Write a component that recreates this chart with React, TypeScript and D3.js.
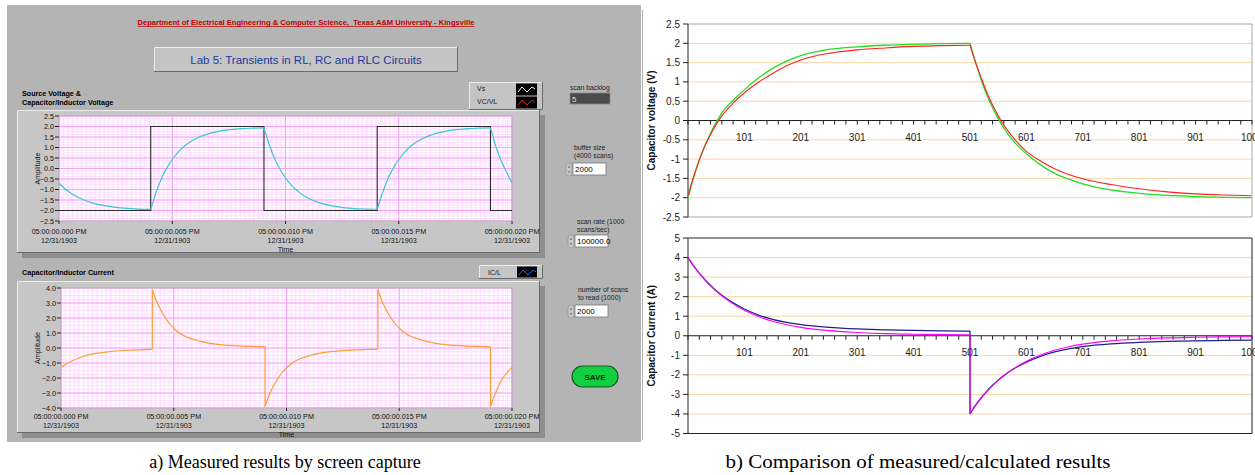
import React from 'react';
import * as d3 from 'd3';

// ---------- a) measured, LabVIEW capture (time in ms) ----------
const scopeTimeMs = [
  0, 0.25, 0.5, 0.75, 1, 1.5, 2, 2.5, 3, 3.5, 4.05,
  4.05, 4.15, 4.3, 4.55, 4.8, 5.05, 5.3, 5.55, 6.05, 6.55, 7.05, 7.55, 8.05, 8.55, 9.05,
  9.05, 9.15, 9.3, 9.55, 9.8, 10.05, 10.3, 10.55, 11.05, 11.55, 12.05, 12.55, 13.05, 13.55, 14.05,
  14.05, 14.15, 14.3, 14.55, 14.8, 15.05, 15.3, 15.55, 16.05, 16.55, 17.05, 17.55, 18.05, 18.55, 19.05,
  19.05, 19.15, 19.3, 19.55, 19.8, 20,
];
const scopeVc = [
  -0.7, -0.95, -1.15, -1.32, -1.45, -1.65, -1.77, -1.85, -1.9, -1.93, -1.95,
  -1.95, -1.6, -1.1, -0.42, 0.1, 0.5, 0.83, 1.08, 1.43, 1.64, 1.77, 1.85, 1.9, 1.92, 1.93,
  1.93, 1.58, 1.08, 0.4, -0.12, -0.52, -0.84, -1.09, -1.44, -1.65, -1.78, -1.86, -1.91, -1.93, -1.94,
  -1.94, -1.6, -1.1, -0.42, 0.1, 0.5, 0.83, 1.08, 1.43, 1.64, 1.77, 1.85, 1.9, 1.92, 1.93,
  1.93, 1.55, 1.0, 0.3, -0.25, -0.7,
];
const scopeIc = [
  -1.3, -1.05, -0.85, -0.68, -0.55, -0.38, -0.27, -0.2, -0.15, -0.12, -0.09,
  3.9, 3.45, 2.9, 2.2, 1.65, 1.25, 0.95, 0.75, 0.5, 0.33, 0.23, 0.17, 0.13, 0.1, 0.08,
  -3.9, -3.45, -2.9, -2.2, -1.65, -1.25, -0.95, -0.75, -0.5, -0.33, -0.23, -0.17, -0.13, -0.1, -0.08,
  3.9, 3.45, 2.9, 2.2, 1.65, 1.25, 0.95, 0.75, 0.5, 0.33, 0.23, 0.17, 0.13, 0.1, 0.08,
  -3.9, -3.45, -2.9, -2.1, -1.6, -1.3,
];
const sourceEdgeMs = [0, 4.05, 9.05, 14.05, 19.05, 20];
const sourceLevel = [-2, 2, -2, 2, -2, -2];
const scopeTimeTicks = [0, 5, 10, 15, 20];
const scopeTimeLabels = ['05:00:00.000 PM', '05:00:00.005 PM', '05:00:00.010 PM', '05:00:00.015 PM', '05:00:00.020 PM'];
const scopeDate = '12/31/1903';
const scopeVoltTicks = [2.5, 2, 1.5, 1, 0.5, 0, -0.5, -1, -1.5, -2, -2.5];
const scopeAmpTicks = [4, 3, 2, 1, 0, -1, -2, -3, -4];

// ---------- b) measured vs calculated (sample number) ----------
const sampleIdx = [
  1, 11, 21, 31, 41, 51, 61, 81, 101, 126, 151, 176, 201, 251, 301, 351, 401, 451, 501,
  501, 511, 521, 531, 541, 551, 561, 581, 601, 626, 651, 676, 701, 751, 801, 851, 901, 951, 1000,
];
const measuredVc = [
  -1.95, -1.45, -1.02, -0.66, -0.36, -0.1, 0.12, 0.45, 0.72, 0.99, 1.22, 1.42, 1.57, 1.74, 1.83, 1.88, 1.92, 1.94, 1.95,
  1.95, 1.5, 1.1, 0.72, 0.4, 0.12, -0.12, -0.5, -0.8, -1.05, -1.25, -1.4, -1.51, -1.66, -1.77, -1.85, -1.9, -1.93, -1.95,
];
const calculatedVc = [
  -2, -1.48, -1.03, -0.65, -0.33, -0.05, 0.2, 0.52, 0.8, 1.1, 1.35, 1.54, 1.68, 1.84, 1.91, 1.95, 1.97, 1.99, 2,
  2, 1.5, 1.05, 0.66, 0.33, 0.05, -0.2, -0.58, -0.86, -1.15, -1.37, -1.52, -1.64, -1.8, -1.89, -1.94, -1.97, -1.99, -2,
];
const measuredIc = [
  4, 3.57, 3.2, 2.87, 2.57, 2.3, 2.07, 1.68, 1.37, 1.06, 0.84, 0.68, 0.57, 0.43, 0.35, 0.3, 0.27, 0.25, 0.24,
  -4, -3.55, -3.17, -2.83, -2.53, -2.27, -2.04, -1.65, -1.35, -1.05, -0.83, -0.67, -0.56, -0.42, -0.34, -0.29, -0.26, -0.24, -0.22,
];
const calculatedIc = [
  4, 3.57, 3.19, 2.85, 2.55, 2.28, 2.04, 1.63, 1.3, 0.98, 0.74, 0.56, 0.43, 0.26, 0.17, 0.11, 0.08, 0.06, 0.05,
  -4, -3.57, -3.19, -2.85, -2.55, -2.28, -2.04, -1.63, -1.3, -0.98, -0.74, -0.56, -0.43, -0.26, -0.17, -0.11, -0.08, -0.06, -0.05,
];
const sampleLabels = [101, 201, 301, 401, 501, 601, 701, 801, 901, 1001];
const vcTicks = [2.5, 2, 1.5, 1, 0.5, 0, -0.5, -1, -1.5, -2, -2.5];
const icTicks = [5, 4, 3, 2, 1, 0, -1, -2, -3, -4, -5];

const sans = "'Liberation Sans', Arial, sans-serif";
const serif = "'Liberation Serif', 'Times New Roman', serif";

// split a trace where the x value repeats (a jump)
function splitAt(xs: number[], ys: number[]) {
  const segs: [number, number][][] = [];
  let cur: [number, number][] = [];
  xs.forEach((x, i) => {
    if (i > 0 && x === xs[i - 1]) { segs.push(cur); cur = []; }
    cur.push([x, ys[i]]);
  });
  segs.push(cur);
  return segs;
}

function Trace({ xs, ys, x, y, color, w = 1 }: any) {
  const segs = splitAt(xs, ys);
  const line = d3.line<[number, number]>().x(d => x(d[0])).y(d => y(d[1])).curve(d3.curveMonotoneX);
  return (
    <g fill="none" stroke={color} strokeWidth={w} strokeLinejoin="round">
      {segs.map((s, i) => <path key={i} d={line(s) ?? ''} />)}
      {segs.slice(1).map((s, i) => {
        const p = segs[i][segs[i].length - 1];
        return <line key={'j' + i} x1={x(p[0])} y1={y(p[1])} x2={x(s[0][0])} y2={y(s[0][1])} />;
      })}
    </g>
  );
}

function Bevel({ x, y, w, h, fill, sunk = false }: any) {
  const hi = sunk ? '#707070' : '#ececec';
  const lo = sunk ? '#efefef' : '#6a6a6a';
  return (
    <g>
      <rect x={x} y={y} width={w} height={h} fill={fill} />
      <path d={`M${x + 0.5},${y + h}V${y + 0.5}H${x + w}`} stroke={hi} fill="none" />
      <path d={`M${x + w - 0.5},${y}V${y + h - 0.5}H${x}`} stroke={lo} fill="none" />
    </g>
  );
}

function ScopeChart({ fy, fh, px0, px1, py0, py1, yDomain, yTicks, yMinor, labelY, draw }: any) {
  const x = d3.scaleLinear().domain([0, 20]).range([px0, px1]);
  const y = d3.scaleLinear().domain(yDomain).range([py1, py0]);
  const minorX = d3.range(0, 20.0001, 0.2);
  const minorY = d3.range(yDomain[0], yDomain[1] + 1e-6, yMinor);
  const fmt = d3.format('.1f');
  return (
    <g>
      <rect x={22} y={fy + 5} width={523} height={fh} fill="#8e8e8e" />
      <Bevel x={17} y={fy} w={523} h={fh} fill="#c6c6c6" />
      <rect x={px0} y={py0} width={px1 - px0} height={py1 - py0} fill="#fffaff" />
      <g stroke="#ffd4ff" strokeWidth={0.7}>
        {minorX.map((t, i) => <line key={'mx' + i} x1={x(t)} x2={x(t)} y1={py0} y2={py1} />)}
        {minorY.map((v, i) => <line key={'my' + i} x1={px0} x2={px1} y1={y(v)} y2={y(v)} />)}
      </g>
      <g stroke="#f7a0f7" strokeWidth={1}>
        {scopeTimeTicks.map(t => <line key={'gx' + t} x1={x(t)} x2={x(t)} y1={py0} y2={py1} />)}
        {yTicks.map((v: number) => <line key={'gy' + v} x1={px0} x2={px1} y1={y(v)} y2={y(v)} />)}
      </g>
      <rect x={px0} y={py0} width={px1 - px0} height={py1 - py0} fill="none" stroke="#9a9a9a" strokeWidth={0.6} />
      {draw(x, y)}
      <g fontFamily={sans} fontSize={7.2} fill="#111">
        {yTicks.map((v: number) => (
          <g key={'yl' + v}>
            <line x1={px0 - 4} x2={px0} y1={y(v)} y2={y(v)} stroke="#222" />
            <text x={px0 - 5} y={y(v) + 2.6} textAnchor="end">{fmt(v)}</text>
          </g>
        ))}
        {scopeTimeTicks.map((t, i) => (
          <g key={'xl' + t}>
            <line x1={x(t)} x2={x(t)} y1={py1} y2={py1 + 3} stroke="#222" />
            <text x={x(t)} y={labelY} textAnchor="middle">{scopeTimeLabels[i]}</text>
            <text x={x(t)} y={labelY + 8.5} textAnchor="middle">{scopeDate}</text>
          </g>
        ))}
        <text x={(px0 + px1) / 2} y={labelY + 17.5} textAnchor="middle">Time</text>
        <text transform={`translate(40,${(py0 + py1) / 2}) rotate(-90)`} textAnchor="middle">Amplitude</text>
      </g>
    </g>
  );
}

function Spin({ x, y, h }: any) {
  return (
    <g>
      <rect x={x} y={y} width={6} height={h} rx={3} fill="#c8c8c8" stroke="#8a8a8a" strokeWidth={0.6} />
      <path d={`M${x + 1.5},${y + h / 2 - 1.5}l1.5,-2.5l1.5,2.5z M${x + 1.5},${y + h / 2 + 1.5}l1.5,2.5l1.5,-2.5z`} fill="#888" />
    </g>
  );
}

function NumBox({ x, y, w, h, value }: any) {
  return (
    <g>
      <rect x={x} y={y} width={w} height={h} fill="#fff" stroke="#777" strokeWidth={0.8} />
      <text x={x + 2} y={y + h - 3} fontFamily={sans} fontSize={8} fill="#000">{value}</text>
    </g>
  );
}

function ExcelChart({ top, bottom, yDomain, yTicks, title, border, draw }: any) {
  const left = 688, right = 1252;
  const x = d3.scaleLinear().domain([1, 1001]).range([left, right]);
  const y = d3.scaleLinear().domain(yDomain).range([bottom, top]);
  const tickIdx = d3.range(1, 1002, 20);
  const y0 = y(0);
  return (
    <g>
      <g stroke="#fad6a6" strokeWidth={1}>
        {yTicks.filter((v: number) => v !== 0 && v !== yDomain[0] && v !== yDomain[1]).map((v: number) => (
          <line key={'g' + v} x1={left} x2={right} y1={y(v)} y2={y(v)} />
        ))}
      </g>
      <path d={`M${left},${top}H${right}V${bottom}H${left}`} fill="none" stroke={border} strokeWidth={1} />
      <line x1={left} x2={left} y1={top} y2={bottom} stroke="#222" />
      <line x1={left} x2={right} y1={y0} y2={y0} stroke="#222" />
      <g stroke="#222">
        {tickIdx.map(n => <line key={'t' + n} x1={x(n)} x2={x(n)} y1={y0} y2={y0 + 4} />)}
        {yTicks.map((v: number) => <line key={'yt' + v} x1={left - 5} x2={left} y1={y(v)} y2={y(v)} />)}
      </g>
      {draw(x, y)}
      <g fontFamily={sans} fontSize={10} fill="#222">
        {yTicks.map((v: number) => (
          <text key={'yl' + v} x={left - 8} y={y(v) + 3.5} textAnchor="end">{v}</text>
        ))}
        {sampleLabels.map(n => (
          <text key={'xl' + n} x={x(n)} y={y0 + 20} textAnchor="middle">{n}</text>
        ))}
      </g>
      <text transform={`translate(655,${(top + bottom) / 2}) rotate(-90)`} textAnchor="middle"
        fontFamily={sans} fontSize={10} fontWeight="bold" fill="#111">{title}</text>
    </g>
  );
}

export default function App() {
  return (
    <svg width={1255} height={475} style={{ position: 'absolute', left: 0, top: 0, background: '#fff' }}>
      {/* left panel */}
      <rect x={7} y={5} width={634} height={437} fill="#b4b4b4" />
      <text x={306} y={25} textAnchor="middle" fontFamily={sans} fontSize={7} fontWeight="bold" fill="#c00000"
        textDecoration="underline" style={{ whiteSpace: 'pre' }} textLength={337} lengthAdjust="spacingAndGlyphs">
        Department of Electrical Engineering &amp; Computer Science,  Texas A&amp;M University - Kingsville
      </text>
      <Bevel x={154} y={47} w={304} h={25} fill="#c4c4c4" />
      <text x={306} y={63.5} textAnchor="middle" fontFamily={sans} fontSize={11.5} fill="#1c3a9c">
        Lab 5: Transients in RL, RC and RLC Circuits
      </text>

      {/* voltage chart */}
      <text x={22} y={96} fontFamily={sans} fontSize={7.2} fontWeight="bold">Source Voltage &amp;</text>
      <text x={22} y={105} fontFamily={sans} fontSize={7.2} fontWeight="bold">Capacitor/Inductor Voltage</text>
      <Bevel x={469} y={82} w={74} h={28} fill="#c4c4c4" />
      <text x={477} y={91} fontFamily={sans} fontSize={7} fill="#222">Vs</text>
      <text x={477} y={104} fontFamily={sans} fontSize={7} fill="#222">VC/VL</text>
      <rect x={516} y={83.5} width={21} height={12} fill="#000" />
      <rect x={516} y={96.5} width={21} height={12} fill="#000" />
      <path d="M518,92 l4,-5 l5,5 l5,-5 l3,2" fill="none" stroke="#fff" strokeWidth={1} />
      <path d="M518,105 l4,-5 l5,5 l5,-5 l3,2" fill="none" stroke="#e02020" strokeWidth={1} />
      <ScopeChart fy={110} fh={143} px0={59} px1={512} py0={116} py1={221}
        yDomain={[-2.5, 2.5]} yTicks={scopeVoltTicks} yMinor={0.125} labelY={234}
        draw={(x: any, y: any) => (
          <g>
            <path d={d3.line<number>().x(t => x(t)).y((_, i) => y(sourceLevel[i])).curve(d3.curveStepAfter)(sourceEdgeMs) ?? ''}
              fill="none" stroke="#2a2a2a" strokeWidth={1.1} />
            <Trace xs={scopeTimeMs} ys={scopeVc} x={x} y={y} color="#3cc6d6" w={1.2} />
          </g>
        )} />

      {/* current chart */}
      <text x={22} y={275} fontFamily={sans} fontSize={7.2} fontWeight="bold">Capacitor/Inductor Current</text>
      <Bevel x={479} y={265} w={64} h={14} fill="#c4c4c4" />
      <text x={488} y={275} fontFamily={sans} fontSize={7} fill="#222">IC/L</text>
      <rect x={517} y={266.5} width={20} height={11} fill="#000" />
      <path d="M519,275 l4,-5 l5,5 l5,-5 l3,2" fill="none" stroke="#2070e0" strokeWidth={1} />
      <ScopeChart fy={281} fh={152} px0={61} px1={512} py0={288} py1={408}
        yDomain={[-4, 4]} yTicks={scopeAmpTicks} yMinor={0.25} labelY={419}
        draw={(x: any, y: any) => (
          <Trace xs={scopeTimeMs} ys={scopeIc} x={x} y={y} color="#f7a035" w={1.2} />
        )} />

      {/* controls */}
      <g fontFamily={sans} fontSize={6.8} fill="#222">
        <text x={570} y={90}>scan backlog</text>
        <rect x={570} y={93} width={40} height={11} fill="#4a4a4a" stroke="#888" strokeWidth={0.8} />
        <text x={572} y={102} fill="#ddd" fontSize={8}>5</text>

        <text x={574} y={150}>buffer size</text>
        <text x={574} y={158}>(4000 scans)</text>
        <Spin x={566} y={163} h={13} />
        <NumBox x={573} y={163} w={33} h={12} value="2000" />

        <text x={577} y={224}>scan rate (1000</text>
        <text x={577} y={232}>scans/sec)</text>
        <Spin x={568} y={235} h={13} />
        <NumBox x={575} y={235} w={33} h={12} value="100000.0" />

        <text x={578} y={292}>number of scans</text>
        <text x={578} y={300}>to read  (1000)</text>
        <Spin x={568} y={305} h={13} />
        <NumBox x={575} y={305} w={33} h={12} value="2000" />
      </g>
      <rect x={572} y={366} width={46} height={21} rx={10.5} fill="#10d040" stroke="#1a5a1a" strokeWidth={1.2} />
      <text x={595} y={379.5} textAnchor="middle" fontFamily={sans} fontSize={8} fontWeight="bold" fill="#062a06">SAVE</text>

      {/* right panel */}
      <line x1={642.5} x2={642.5} y1={10} y2={440} stroke="#b0b0b0" strokeWidth={1} />
      <ExcelChart top={24} bottom={217} yDomain={[-2.5, 2.5]} yTicks={vcTicks} title="Capacitor voltage (V)" border="#a8a8a8"
        draw={(x: any, y: any) => (
          <g>
            <Trace xs={sampleIdx} ys={calculatedVc} x={x} y={y} color="#22dd22" w={1.3} />
            <Trace xs={sampleIdx} ys={measuredVc} x={x} y={y} color="#ff2020" w={1.1} />
          </g>
        )} />
      <ExcelChart top={238} bottom={433.5} yDomain={[-5, 5]} yTicks={icTicks} title="Capacitor Current (A)" border="#222"
        draw={(x: any, y: any) => (
          <g>
            <Trace xs={sampleIdx} ys={measuredIc} x={x} y={y} color="#202090" w={1.3} />
            <Trace xs={sampleIdx} ys={calculatedIc} x={x} y={y} color="#ff00ff" w={1.1} />
          </g>
        )} />

      {/* captions */}
      <text x={285} y={468} textAnchor="middle" fontFamily={serif} fontSize={18} fill="#000">a) Measured results by screen capture</text>
      <text x={918} y={468} textAnchor="middle" fontFamily={serif} fontSize={18.5} fill="#000"
        textLength={385} lengthAdjust="spacingAndGlyphs">b) Comparison of measured/calculated results</text>
    </svg>
  );
}
